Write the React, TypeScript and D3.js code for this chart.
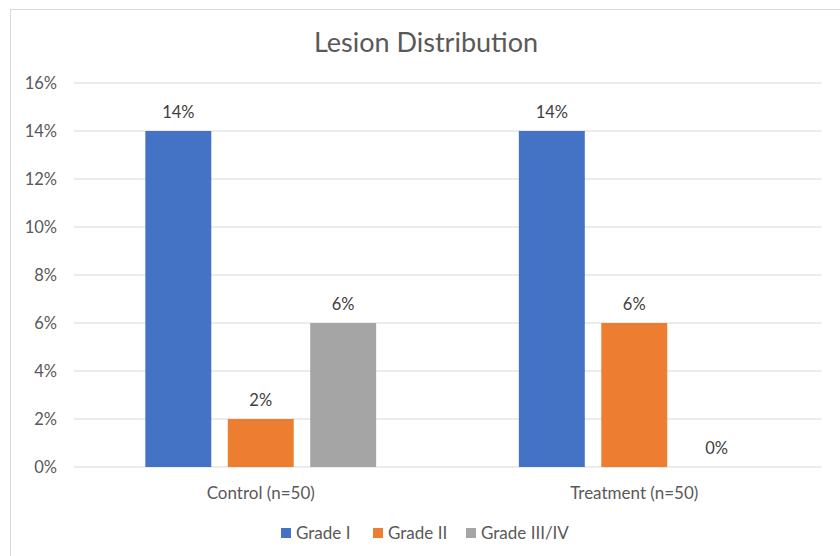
import React from "react";
import * as d3 from "d3";

const categories = ["Control (n=50)", "Treatment (n=50)"];
const series = ["Grade I", "Grade II", "Grade III/IV"];
const gradeI = [14, 14];
const gradeII = [2, 6];
const gradeIII = [6, 0];
const colors = ["#4472C4", "#ED7D31", "#A5A5A5"];
const yTicks = [0, 2, 4, 6, 8, 10, 12, 14, 16];
const title = "Lesion Distribution";

const W = 840;
const H = 556;
const FONT = "Lato, 'Open Sans', sans-serif";
const FS = 16.5;

export default function App() {
  const values = [gradeI, gradeII, gradeIII];
  const x0 = d3.scaleBand<string>().domain(categories).range([74, 821]).paddingInner(0.382).paddingOuter(0.191);
  const x1 = d3.scaleBand<string>().domain(series).range([0, x0.bandwidth()]).paddingInner(0.2);
  const y = d3.scaleLinear().domain([0, 16]).range([467, 83]);

  const legendItems = [
    { name: series[0], x: 281, tx: 296 },
    { name: series[1], x: 373, tx: 388 },
    { name: series[2], x: 466, tx: 481 },
  ];

  return (
    <svg width={W} height={H} style={{ position: "absolute", left: 0, top: 0, fontFamily: FONT }}>
      <rect x={0} y={0} width={W} height={H} fill="#fff" />
      <rect x={10.5} y={9.5} width={W + 10} height={H + 10} fill="#fff" stroke="#d9d9d9" />
      <text x={426} y={52} textAnchor="middle" fontSize={27} fill="#595959">{title}</text>
      {yTicks.map((t) => (
        <g key={t}>
          <line x1={74} x2={821} y1={y(t)} y2={y(t)} stroke="#d9d9d9" strokeWidth={1} />
          <text x={57} y={y(t)} dy="0.35em" textAnchor="end" fontSize={FS} fill="#595959">{t}%</text>
        </g>
      ))}
      {categories.map((c, ci) => (
        <g key={c}>
          {series.map((s, si) => {
            const v = values[si][ci];
            const bx = (x0(c) as number) + (x1(s) as number);
            const bw = x1.bandwidth();
            return (
              <g key={s}>
                {v > 0 && <rect x={bx} y={y(v)} width={bw} height={y(0) - y(v)} fill={colors[si]} />}
                <text x={bx + bw / 2} y={y(v) - 13} textAnchor="middle" fontSize={FS} fill="#404040">{v}%</text>
              </g>
            );
          })}
          <text x={(x0(c) as number) + x0.bandwidth() / 2} y={499} textAnchor="middle" fontSize={17} fill="#595959">{c}</text>
        </g>
      ))}
      {legendItems.map((l, i) => (
        <g key={l.name}>
          <rect x={l.x} y={528} width={10} height={10} fill={colors[i]} />
          <text x={l.tx} y={533} dy="0.35em" fontSize={17} fill="#595959">{l.name}</text>
        </g>
      ))}
    </svg>
  );
}
